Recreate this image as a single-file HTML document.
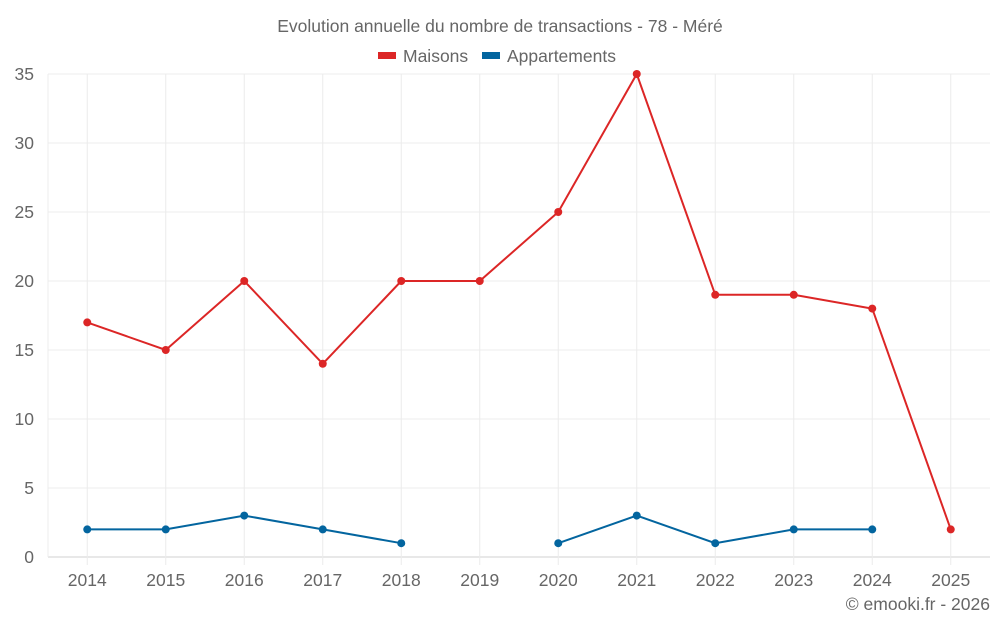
<!DOCTYPE html>
<html><head><meta charset="utf-8"><style>
html,body{margin:0;padding:0;background:#fff;}
svg{display:block;font-family:"Liberation Sans",sans-serif;}
</style></head><body>
<svg id="chart" width="1000" height="625">
<text x="500" y="32" text-anchor="middle" font-size="17.5" fill="#666">Evolution annuelle du nombre de transactions - 78 - Méré</text>
<g>
<g><rect x="378" y="52" width="18" height="7" fill="#dc2626"/><text x="403" y="62" font-size="17.5" fill="#666">Maisons</text></g>
<g><rect x="482" y="52" width="18" height="7" fill="#03659f"/><text x="507" y="62" font-size="17.5" fill="#666">Appartements</text></g>
</g>
<g id="grid"></g><g id="axes"></g><g id="series"></g>
<text x="990" y="610" text-anchor="end" font-size="17.5" fill="#666">© emooki.fr - 2026</text>
</svg>
<script>
const categories=["2014","2015","2016","2017","2018","2019","2020","2021","2022","2023","2024","2025"];
const maisons=[17,15,20,14,20,20,25,35,19,19,18,2];
const appartements=[2,2,3,2,1,null,1,3,1,2,2,null];
const yTicks=[0,5,10,15,20,25,30,35];
const NS="http://www.w3.org/2000/svg";
const L=48,R=990,T=74,B=557,yMax=35;
const bw=(R-L)/categories.length;
const xs=i=>L+bw*(i+0.5);
const ys=v=>B-(v/yMax)*(B-T);
function mk(tag,attrs,parent){const e=document.createElementNS(NS,tag);for(const k in attrs)e.setAttribute(k,attrs[k]);parent.appendChild(e);return e;}
const grid=document.getElementById('grid'),axes=document.getElementById('axes'),ser=document.getElementById('series');
yTicks.forEach(v=>{
 const l=mk('line',{x1:L,x2:R,y1:ys(v),y2:ys(v),stroke:v===0?'#d0d0d0':'#ececec','stroke-width':1},grid);
 
 
 const t=mk('text',{x:L-14,y:ys(v)+6,'text-anchor':'end','font-size':17.5,fill:'#666'},axes);
 t.textContent=v;
 
 
});
const ax=mk('line',{x1:L,x2:L,y1:T,y2:B,stroke:'#ececec'},grid);


categories.forEach((c,i)=>{
 const l=mk('line',{x1:xs(i),x2:xs(i),y1:T,y2:B+8,stroke:'#ececec'},grid);
 
 
 const t=mk('text',{x:xs(i),y:586,'text-anchor':'middle','font-size':17.5,fill:'#666'},axes);
 t.textContent=c;
 
 
});
function draw(vals,color,name){
 let segs=[],cur=[];
 vals.forEach((v,i)=>{if(v===null){if(cur.length)segs.push(cur);cur=[];}else cur.push([xs(i),ys(v)]);});
 if(cur.length)segs.push(cur);
 segs.forEach(s=>{if(s.length>1){const p=mk('polyline',{points:s.map(q=>q.join(',')).join(' '),fill:'none',stroke:color,'stroke-width':2},ser);
  
  }});
 vals.forEach((v,i)=>{if(v===null)return;const c=mk('circle',{cx:xs(i),cy:ys(v),r:4,fill:color},ser);
  
  });
}
draw(maisons,'#dc2626','maisons');
draw(appartements,'#03659f','appartements');
</script>
</body></html>
